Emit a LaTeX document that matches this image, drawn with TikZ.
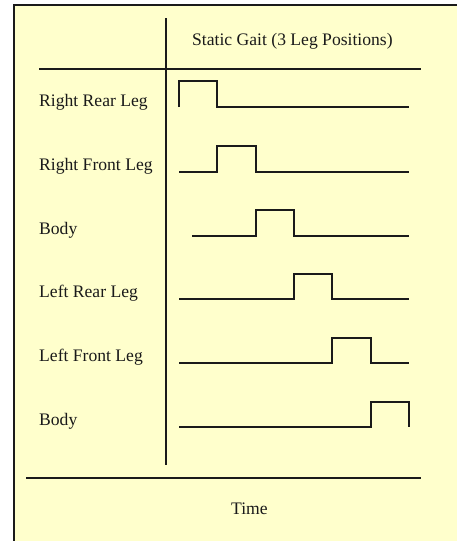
\documentclass[tikz,border=0pt]{standalone}
\usepackage{fontspec}
\setmainfont{Liberation Serif}
\definecolor{bgyellow}{HTML}{FFFFCC}
\definecolor{ink}{HTML}{1A1A1A}
\begin{document}
\begin{tikzpicture}[x=1pt,y=1pt,
  lbl/.style={anchor=base west,inner sep=0pt,font=\fontsize{17.6}{20}\selectfont,text=ink},
  rule/.style={draw=ink,line width=1.1pt},
  wave/.style={draw=ink,line width=1.1pt,line join=miter}]
\useasboundingbox (0,0) rectangle (457,-541);
\clip (0,0) rectangle (457,-541);
\fill[white] (0,0) rectangle (457,-541);
\draw[rule,fill=bgyellow] (14,-5) rectangle (470,-560);
% dividers
\draw[rule] (166,-18) -- (166,-465);
\draw[rule] (39,-69) -- (421,-69);
\draw[rule] (26,-478) -- (421,-478);
% texts
\node[lbl] (title) at (192,-45) {Static Gait (3 Leg Positions)};
\node[lbl] (time) at (231,-514) {Time};
\node[lbl] (l1) at (39,-106) {Right Rear Leg};
\node[lbl] (l2) at (39,-170) {Right Front Leg};
\node[lbl] (l3) at (39,-234) {Body};
\node[lbl] (l4) at (39,-297) {Left Rear Leg};
\node[lbl] (l5) at (39,-361) {Left Front Leg};
\node[lbl] (l6) at (39,-425) {Body};
% waveforms
\draw[wave] (179,-107) -- (179,-81) -- (217,-81) -- (217,-107) -- (409,-107);
\draw[wave] (179,-172) -- (217,-172) -- (217,-146) -- (256,-146) -- (256,-172) -- (409,-172);
\draw[wave] (192,-236) -- (256,-236) -- (256,-210) -- (294,-210) -- (294,-236) -- (409,-236);
\draw[wave] (179,-299) -- (294,-299) -- (294,-274) -- (332,-274) -- (332,-299) -- (409,-299);
\draw[wave] (179,-363) -- (332,-363) -- (332,-338) -- (371,-338) -- (371,-363) -- (409,-363);
\draw[wave] (179,-427) -- (371,-427) -- (371,-402) -- (409,-402) -- (409,-427);
\end{tikzpicture}
\end{document}
